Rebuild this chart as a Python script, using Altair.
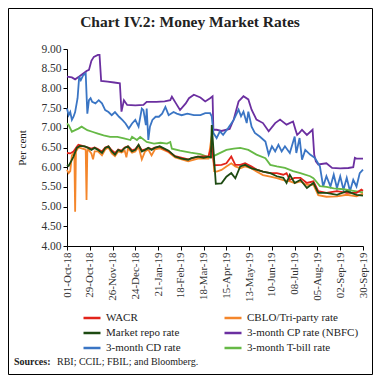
import altair as alt
import pandas as pd

# ---------------- data (day offsets from 01-Oct-2018) ----------------
cp_days = [0, 6, 10, 15, 20, 24, 27, 30, 33, 38, 40, 42, 50, 58, 65, 67, 70, 74, 84, 94,
           98, 110, 120, 127, 129, 134, 139, 146, 150, 156, 164, 170, 176, 179, 180, 184, 190, 200, 205, 211,
           217, 223, 227, 233, 241, 248, 256, 262, 270, 278, 281, 283, 286, 289, 295, 302, 304, 306, 309, 319,
           326, 336, 346, 352, 354, 356, 364]
cp_vals = [8.30, 8.28, 8.23, 8.30, 8.38, 8.44, 8.47, 8.70, 8.80, 8.85, 8.85, 8.19, 8.17, 8.15, 8.13, 7.41, 7.70, 7.58, 7.57, 7.58,
           7.66, 7.66, 7.67, 7.70, 7.79, 7.62, 7.45, 7.62, 7.75, 7.84, 7.77, 7.67, 7.75, 7.80, 6.95, 6.95, 6.92, 6.97, 7.21, 7.67,
           7.80, 7.72, 7.46, 7.21, 7.12, 6.91, 7.12, 7.21, 7.08, 7.16, 6.95, 6.82, 6.88, 6.95, 6.82, 6.95, 6.32, 6.15, 6.07, 6.10,
           5.98, 5.97, 5.98, 6.00, 6.24, 6.22, 6.22]

cd_days = [0, 2, 4, 6, 8, 10, 13, 15, 17, 20, 23, 25, 27, 29, 31, 35, 39, 43, 47, 51,
           55, 59, 64, 68, 72, 76, 80, 84, 88, 92, 94, 97, 98, 100, 102, 105, 109, 113, 117, 121,
           125, 131, 135, 141, 148, 156, 164, 170, 176, 178, 180, 184, 188, 192, 198, 205, 211, 214, 217, 221,
           223, 227, 231, 237, 244, 248, 252, 256, 260, 264, 268, 274, 280, 282, 286, 289, 293, 299, 305, 311,
           315, 319, 324, 328, 332, 336, 340, 344, 348, 352, 356, 360, 364]
cd_vals = [7.49, 7.32, 7.40, 7.20, 7.28, 7.40, 7.75, 8.30, 8.21, 8.34, 8.38, 7.36, 7.70, 7.75, 7.66, 7.62, 7.70, 7.62, 7.45, 7.40,
           7.32, 7.40, 7.28, 7.20, 7.11, 6.98, 7.11, 7.20, 7.03, 7.49, 7.45, 7.07, 7.49, 6.69, 7.03, 7.20, 7.28, 7.28, 7.36, 7.53,
           7.32, 7.40, 7.36, 7.32, 7.36, 7.32, 7.32, 7.37, 7.37, 7.29, 6.87, 6.74, 6.91, 6.82, 6.99, 7.20, 7.46, 7.29, 7.41, 7.12,
           7.41, 7.03, 6.87, 6.78, 6.65, 6.32, 6.53, 6.40, 6.57, 6.40, 6.53, 6.36, 6.78, 6.36, 6.74, 6.19, 6.44, 6.32, 6.23, 6.02,
           5.51, 5.77, 5.51, 5.81, 5.47, 5.77, 5.43, 5.73, 5.39, 5.68, 5.51, 5.85, 5.94]

tb_days = [0, 2, 6, 10, 14, 18, 25, 31, 37, 45, 53, 62, 70, 78, 80, 86, 90, 98, 107, 115,
           123, 127, 129, 139, 152, 164, 176, 184, 196, 205, 213, 223, 233, 244, 250, 258, 268, 278, 287, 299,
           303, 306, 311, 319, 328, 340, 352, 364]
tb_vals = [7.11, 7.07, 6.90, 6.94, 6.98, 7.03, 6.94, 6.90, 6.86, 6.81, 6.77, 6.77, 6.73, 6.69, 6.77, 6.69, 6.77, 6.64, 6.60, 6.62,
           6.60, 6.64, 6.47, 6.42, 6.37, 6.33, 6.24, 6.32, 6.44, 6.47, 6.49, 6.44, 6.32, 6.23, 6.06, 6.02, 5.98, 5.90, 5.85, 5.77,
           5.72, 5.65, 5.52, 5.50, 5.46, 5.44, 5.40, 5.36]

repo_days = [0, 2, 4, 8, 12, 16, 22, 26, 30, 34, 38, 43, 47, 51, 55, 59, 63, 67, 71, 75,
             80, 84, 88, 92, 96, 100, 104, 108, 114, 125, 133, 141, 149, 153, 161, 168, 174, 177, 178, 183,
             190, 196, 202, 207, 213, 219, 227, 233, 241, 250, 258, 266, 270, 274, 280, 287, 295, 303, 309, 319,
             332, 344, 356, 364]
repo_vals = [6.06, 6.03, 6.11, 6.27, 6.49, 6.54, 6.53, 6.49, 6.44, 6.49, 6.44, 6.36, 6.49, 6.53, 6.40, 6.32, 6.44, 6.40, 6.49, 6.53,
             6.40, 6.44, 6.57, 6.40, 6.44, 6.49, 6.44, 6.49, 6.53, 6.42, 6.27, 6.22, 6.19, 6.23, 6.27, 6.24, 6.27, 6.25, 7.07, 5.58,
             5.59, 5.76, 5.85, 5.72, 6.02, 6.06, 5.97, 5.94, 5.89, 5.85, 5.77, 5.73, 5.60, 5.81, 5.60, 5.68, 5.47, 5.60, 5.35, 5.35,
             5.30, 5.39, 5.30, 5.28]

wacr_days = [0, 4, 8, 12, 14, 18, 22, 26, 30, 34, 38, 43, 47, 51, 55, 59, 63, 67, 71, 75,
             80, 84, 88, 92, 96, 100, 104, 108, 114, 125, 133, 149, 161, 174, 178, 181, 190, 196, 202, 207,
             213, 219, 227, 233, 241, 250, 258, 266, 270, 274, 280, 287, 295, 303, 309, 319, 332, 344, 356, 362,
             364]
wacr_vals = [6.36, 6.35, 6.40, 6.52, 6.57, 6.55, 6.52, 6.50, 6.47, 6.50, 6.46, 6.40, 6.50, 6.53, 6.43, 6.36, 6.45, 6.42, 6.50, 6.53,
             6.43, 6.46, 6.56, 6.43, 6.45, 6.49, 6.46, 6.50, 6.52, 6.40, 6.28, 6.20, 6.27, 6.28, 6.55, 6.05, 6.06, 6.10, 6.27, 6.06,
             6.06, 6.10, 6.02, 5.94, 5.89, 5.85, 5.85, 5.81, 5.85, 5.68, 5.73, 5.73, 5.60, 5.64, 5.39, 5.35, 5.39, 5.35, 5.35, 5.43,
             5.40]

cblo_days = [0, 2, 4, 6, 8, 9, 10, 11, 14, 18, 22, 23, 24, 25, 26, 30, 32, 34, 38, 43,
             47, 51, 55, 59, 63, 67, 71, 73, 75, 80, 84, 88, 92, 96, 100, 104, 108, 114, 125, 133,
             149, 161, 174, 178, 181, 184, 190, 196, 202, 207, 213, 219, 227, 233, 241, 250, 258, 266, 274, 280,
             287, 295, 303, 309, 319, 332, 344, 356, 364]
cblo_vals = [5.93, 5.85, 5.90, 6.30, 6.35, 6.40, 4.87, 6.40, 6.50, 6.48, 6.45, 6.45, 5.17, 6.40, 6.45, 6.35, 6.20, 6.40, 6.40, 6.30,
             6.45, 6.50, 6.35, 6.28, 6.40, 6.37, 6.42, 6.25, 6.48, 6.37, 6.40, 6.52, 6.20, 6.40, 6.45, 6.30, 6.45, 6.48, 6.38, 6.25,
             6.15, 6.22, 6.22, 6.80, 5.90, 5.89, 5.93, 6.02, 6.10, 6.02, 5.97, 6.02, 5.97, 5.89, 5.80, 5.76, 5.72, 5.67, 5.64, 5.60,
             5.64, 5.55, 5.56, 5.29, 5.25, 5.26, 5.30, 5.26, 5.33]

# legend entries fill column by column: left column first, then right column
legend_order = ["WACR", "Market repo rate", "3-month CD rate",
                "CBLO/Tri-party rate", "3-month CP rate (NBFC)", "3-month  T-bill rate"]
legend_colors = ["#e2231a", "#1d4a12", "#3a75c4", "#f4862b", "#6b2fa0", "#66b946"]

series = {
    "3-month CP rate (NBFC)": (cp_days, cp_vals),
    "3-month CD rate": (cd_days, cd_vals),
    "3-month  T-bill rate": (tb_days, tb_vals),
    "CBLO/Tri-party rate": (cblo_days, cblo_vals),
    "WACR": (wacr_days, wacr_vals),
    "Market repo rate": (repo_days, repo_vals),
}
draw_order = list(series.keys())

rows = []
for name, (d, v) in series.items():
    for di, vi in zip(d, v):
        rows.append({"day": di, "value": vi, "series": name})
df = pd.DataFrame(rows)
one = pd.DataFrame({"k": [0]})

x_ticks = list(range(0, 365, 28))
y_ticks = [4.0, 4.5, 5.0, 5.5, 6.0, 6.5, 7.0, 7.5, 8.0, 8.5, 9.0]

SERIF = "Liberation Serif"

color_scale = alt.Scale(domain=legend_order, range=legend_colors)
legend = alt.Legend(
    title=None, orient="none", legendX=15, legendY=259, columns=2,
    symbolType="stroke", symbolStrokeWidth=2.5, symbolSize=289,
    labelFont=SERIF, labelFontSize=11, labelColor="#222",
    columnPadding=38, gridAlign="each", rowPadding=-4, padding=0, labelOffset=4,
)

x_enc = alt.X("day:Q", scale=alt.Scale(domain=[0, 364], nice=False, zero=False),
              axis=alt.Axis(values=x_ticks, labelAngle=270, grid=False,
                            labelExpr="utcFormat(utc(2018, 9, 1) + datum.value * 86400000, '%d-%b-%y')",
                            labelFont=SERIF, labelFontSize=11, labelColor="#333",
                            tickSize=4, tickColor="black", domainColor="black",
                            labelPadding=2, title=None, labelOverlap=False))
y_enc = alt.Y("value:Q", scale=alt.Scale(domain=[4, 9], nice=False, zero=False),
              axis=alt.Axis(values=y_ticks, format=".2f", grid=False,
                            labelFont=SERIF, labelFontSize=11.5, labelColor="#333",
                            tickSize=4, tickColor="black", domainColor="black",
                            labelPadding=2, title="Per cent", titleFont=SERIF,
                            titleFontSize=11, titleFontWeight="normal", titleColor="#222",
                            titlePadding=13))

layers = []
for name in draw_order:
    layers.append(
        alt.Chart(df).transform_filter(alt.datum.series == name)
        .mark_line(strokeWidth=1.8)
        .encode(x=x_enc, y=y_enc,
                color=alt.Color("series:N", scale=color_scale, legend=legend))
    )

title_txt = alt.Chart(one).mark_text(font=SERIF, fontSize=15.5, fontWeight="bold",
                                     align="center", baseline="middle", color="#222").encode(
    x=alt.value(123), y=alt.value(-27), text=alt.value("Chart IV.2: Money Market Rates"))

src_bold = alt.Chart(one).mark_text(font=SERIF, fontSize=10, fontWeight="bold",
                                    align="left", baseline="middle", color="#222").encode(
    x=alt.value(-53), y=alt.value(313), text=alt.value("Sources:"))
src_rest = alt.Chart(one).mark_text(font=SERIF, fontSize=10, align="left",
                                    baseline="middle", color="#222").encode(
    x=alt.value(-10), y=alt.value(313), text=alt.value("RBI; CCIL; FBIL; and Bloomberg."))

border = alt.Chart(one).mark_rect(fill=None, stroke="black", strokeWidth=1).encode(
    x=alt.value(-58.5), x2=alt.value(305.5), y=alt.value(-40.5), y2=alt.value(325.5))

chart = alt.layer(*layers, title_txt, src_bold, src_rest, border).properties(
    width=296, height=197,
    autosize=alt.AutoSizeParams(type="none"),
    padding={"left": 59, "top": 41, "right": 10, "bottom": 129},
    background="white",
).configure_view(stroke=None)

chart.save("out.html", embed_options={"renderer": "svg", "actions": False})
